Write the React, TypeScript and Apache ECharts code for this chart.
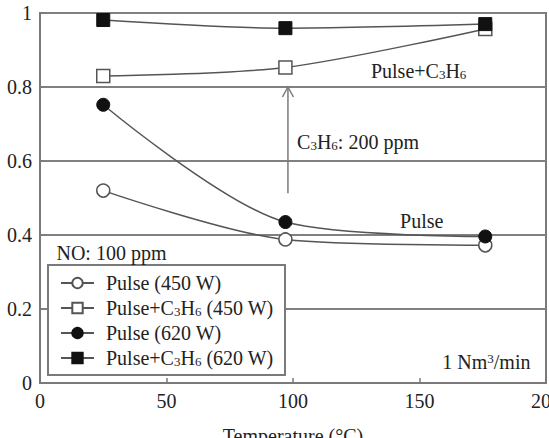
import { useEffect, useRef } from 'react';
import * as echarts from 'echarts';

// Gas temperature (°C) at the three measurement points
const temperatures = [25, 97, 176];

// NO removal ratio for each operating condition
const pulse450 = [0.52, 0.388, 0.372];
const pulseC3H6450 = [0.83, 0.853, 0.957];
const pulse620 = [0.752, 0.435, 0.396];
const pulseC3H6620 = [0.981, 0.959, 0.97];

const seriesNames = ['Pulse (450 W)', 'Pulse+C3H6 (450 W)', 'Pulse (620 W)', 'Pulse+C3H6 (620 W)'];

const FONT = 'Liberation Serif';
const LINE = '#555';
const FRAME = '#7a7a7a';

const richSub = {
  s: { fontFamily: FONT, fontSize: 13, lineHeight: 12, verticalAlign: 'bottom', color: '#222' },
  u: { fontFamily: FONT, fontSize: 13, lineHeight: 12, verticalAlign: 'top', color: '#222' },
};

const withSubscripts = (name: string) => name.replace('C3H6', 'C{s|3}H{s|6}');

function makeSeries(name: string, values: number[], symbol: string, filled: boolean) {
  return {
    name,
    type: 'line',
    smooth: 0.3,
    data: temperatures.map((t, i) => [t, values[i]]),
    symbol,
    symbolSize: 13,
    showSymbol: true,
    lineStyle: { color: LINE, width: 1.5 },
    itemStyle: filled
      ? { color: '#111', borderColor: '#111', borderWidth: 1 }
      : { color: '#fff', borderColor: LINE, borderWidth: 1.5 },
    emphasis: { disabled: true },
  };
}

function annotation(x: number, y: number, text: string) {
  return {
    type: 'text',
    x,
    y,
    z: 5,
    style: {
      text,
      fontFamily: FONT,
      fontSize: 20,
      lineHeight: 20,
      fill: '#222',
      align: 'left',
      verticalAlign: 'middle',
      rich: richSub,
    },
  };
}

export default function App() {
  const ref = useRef<HTMLDivElement>(null);

  useEffect(() => {
    if (!ref.current) return;
    const chart = echarts.init(ref.current, null, { renderer: 'svg' });
    chart.setOption({
      animation: false,
      backgroundColor: '#fff',
      grid: {
        left: 40,
        right: 3,
        top: 13,
        bottom: 55,
        show: true,
        borderColor: FRAME,
        borderWidth: 2,
        outerBoundsMode: 'none',
        containLabel: false,
      },
      xAxis: {
        type: 'value',
        min: 0,
        max: 200,
        interval: 50,
        name: 'Temperature (°C)',
        nameLocation: 'middle',
        nameGap: 43,
        nameTextStyle: { fontFamily: FONT, fontSize: 20, color: '#222' },
        axisLine: { show: true, lineStyle: { color: FRAME, width: 2 } },
        axisTick: { show: true, inside: true, length: 5, lineStyle: { color: FRAME, width: 1.5 } },
        axisLabel: { fontFamily: FONT, fontSize: 20, color: '#222', margin: 8 },
        splitLine: { show: false },
      },
      yAxis: {
        type: 'value',
        min: 0,
        max: 1,
        interval: 0.2,
        axisLine: { show: true, lineStyle: { color: FRAME, width: 2 } },
        axisTick: { show: true, inside: true, length: 4, lineStyle: { color: FRAME, width: 1.5 } },
        axisLabel: { fontFamily: FONT, fontSize: 20, color: '#222', margin: 8 },
        splitLine: { show: true, lineStyle: { color: '#808080', width: 1.8 } },
      },
      legend: {
        orient: 'vertical',
        left: 60,
        top: 273,
        padding: 0,
        itemWidth: 33,
        itemHeight: 13,
        itemGap: 5,
        selectedMode: false,
        data: seriesNames,
        formatter: (name: string) => withSubscripts(name),
        textStyle: {
          fontFamily: FONT,
          fontSize: 20,
          lineHeight: 20,
          color: '#222',
          padding: [0, 0, 0, 7],
          rich: richSub,
        },
      },
      series: [
        makeSeries(seriesNames[0], pulse450, 'circle', false),
        makeSeries(seriesNames[1], pulseC3H6450, 'rect', false),
        makeSeries(seriesNames[2], pulse620, 'circle', true),
        makeSeries(seriesNames[3], pulseC3H6620, 'rect', true),
      ],
    });

    const px = (x: number, y: number) =>
      chart.convertToPixel({ xAxisIndex: 0, yAxisIndex: 0 }, [x, y]) as number[];

    const arrowBase = px(98, 0.513);
    const arrowTip = px(98, 0.8);
    const p1 = px(130.8, 0.843);
    const p2 = px(101.6, 0.651);
    const p3 = px(142.3, 0.437);
    const p4 = px(6.5, 0.351);
    const p5 = px(159, 0.056);

    chart.setOption({
      graphic: [
        {
          type: 'rect',
          z: 1,
          shape: { x: 48, y: 265, width: 237, height: 110 },
          style: { fill: '#fff', stroke: FRAME, lineWidth: 2 },
        },
        {
          type: 'line',
          z: 1,
          shape: { x1: arrowBase[0], y1: arrowBase[1], x2: arrowTip[0], y2: arrowTip[1] },
          style: { stroke: FRAME, lineWidth: 1.5 },
        },
        {
          type: 'polyline',
          z: 1,
          shape: {
            points: [
              [arrowTip[0] - 5.5, arrowTip[1] + 10],
              [arrowTip[0], arrowTip[1]],
              [arrowTip[0] + 5.5, arrowTip[1] + 10],
            ],
          },
          style: { stroke: FRAME, lineWidth: 1.5, fill: 'none' },
        },
        annotation(p1[0], p1[1], 'Pulse+C{s|3}H{s|6}'),
        annotation(p2[0], p2[1], 'C{s|3}H{s|6}: 200 ppm'),
        annotation(p3[0], p3[1], 'Pulse'),
        annotation(p4[0], p4[1], 'NO: 100 ppm'),
        annotation(p5[0], p5[1], '1 Nm{u|3}/min'),
      ],
    });

    return () => chart.dispose();
  }, []);

  return (
    <div
      ref={ref}
      style={{ position: 'fixed', left: 0, top: 0, width: 549, height: 438 }}
    />
  );
}
